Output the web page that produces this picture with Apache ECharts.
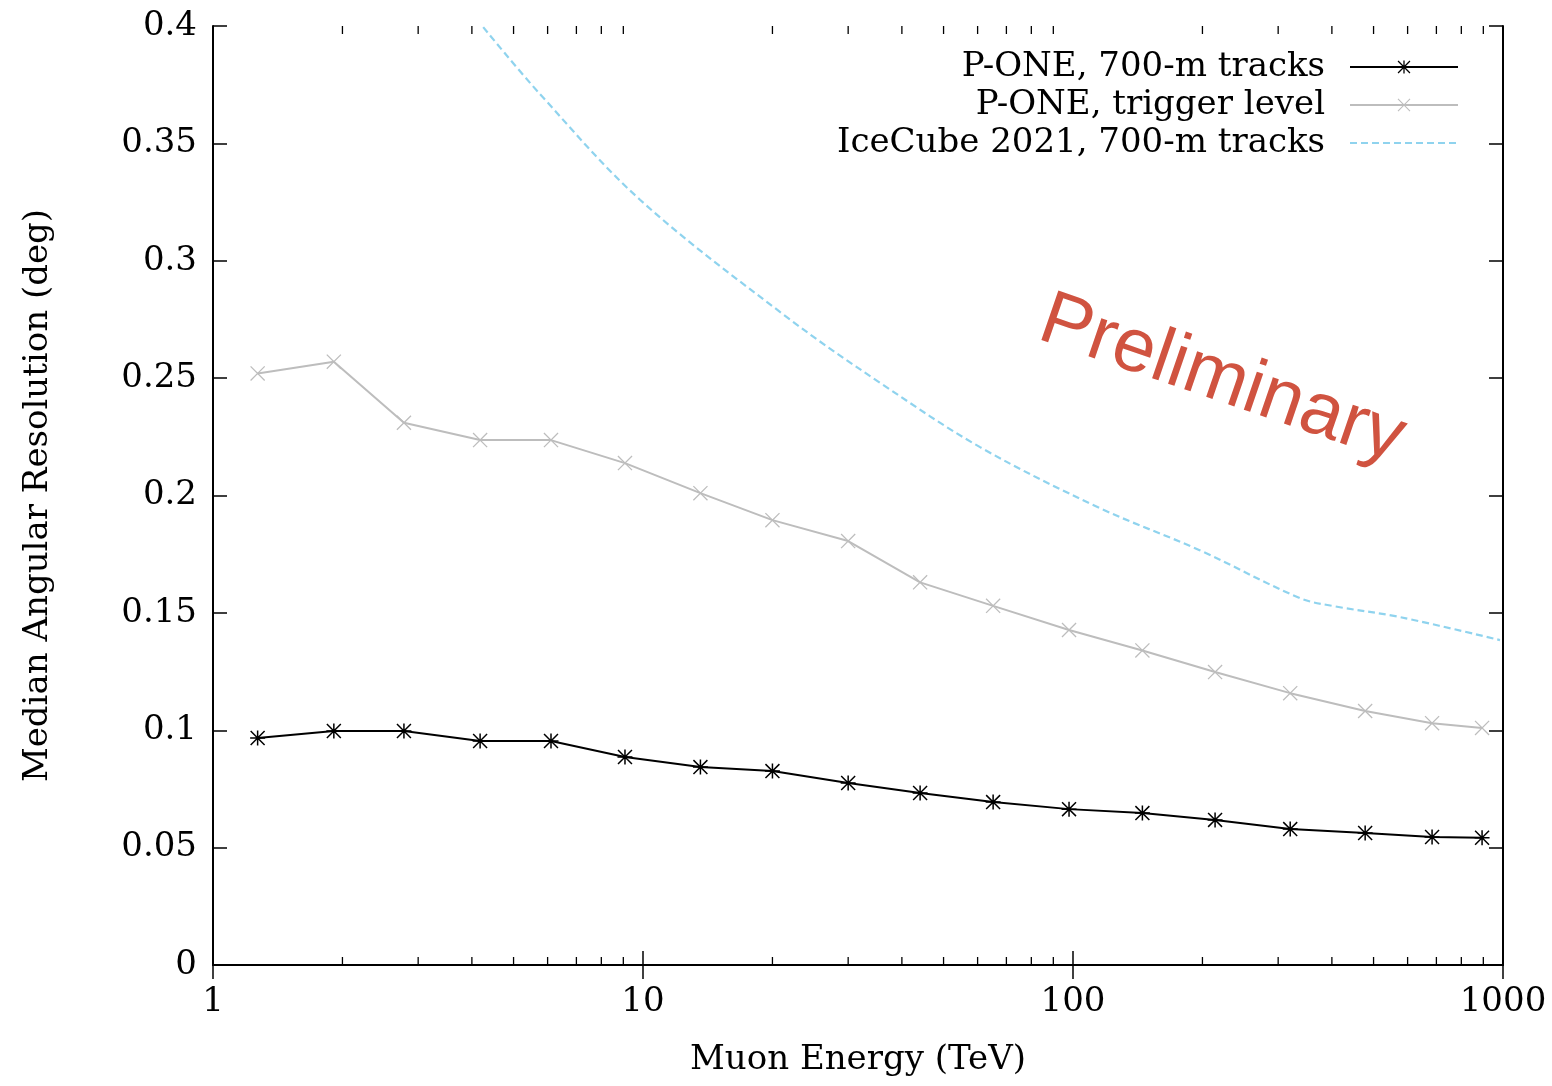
<!DOCTYPE html>
<html>
<head>
<meta charset="utf-8">
<script src="https://cdn.jsdelivr.net/npm/echarts@6/dist/echarts.min.js"></script>
<style>html,body{margin:0;padding:0;background:#fff}#c{width:1552px;height:1086px}</style>
</head>
<body>
<div id="c"></div>
<script>
// ---- data ----
const energyTeV = [1.27, 1.91, 2.78, 4.18, 6.11, 9.08, 13.6, 20.0, 30.0, 44.1, 65.2, 97.9, 145, 214, 320, 478, 684, 894];
const poneTracks = [0.0967, 0.0997, 0.0997, 0.0954, 0.0954, 0.0886, 0.0843, 0.0826, 0.0775, 0.0733, 0.0694, 0.0664, 0.0647, 0.0618, 0.0579, 0.0562, 0.0545, 0.0542];
const poneTrigger = [0.252, 0.257, 0.231, 0.2236, 0.2236, 0.2138, 0.201, 0.1895, 0.1806, 0.163, 0.153, 0.1427, 0.134, 0.1248, 0.1158, 0.1082, 0.103, 0.101];
const icecubeE = [4.25, 5.76, 9.84, 21.6, 35.6, 60.8, 115.6, 197, 337, 403, 576, 984];
const icecubeRes = [0.3995, 0.371, 0.326, 0.276, 0.248, 0.2206, 0.1946, 0.1767, 0.1563, 0.1529, 0.1482, 0.1384];
const seriesNames = ['P-ONE, 700-m tracks', 'P-ONE, trigger level', 'IceCube 2021, 700-m tracks'];
const xTickLabels = ['1', '10', '100', '1000'];
const xMinorTicks = [2,3,4,5,6,7,8,9,20,30,40,50,60,70,80,90,200,300,400,500,600,700,800,900];
const xAxisTitle = 'Muon Energy (TeV)';
const yAxisTitle = 'Median Angular Resolution (deg)';
const watermark = 'Preliminary';

const pair = (xs, ys) => xs.map((x, i) => [x, ys[i]]);

const ASTERISK = 'path://M0 9H20V11H0Z M9 0H11V20H9Z M0 1.4L1.4 0L20 18.6L18.6 20Z M18.6 0L20 1.4L1.4 20L0 18.6Z';
const CROSS = 'path://M0 1.2L1.2 0L20 18.8L18.8 20Z M18.8 0L20 1.2L1.2 20L0 18.8Z';

const serif = 'DejaVu Serif';
const chart = echarts.init(document.getElementById('c'), null, {renderer: 'canvas'});

const commonX = {
  type: 'log', logBase: 10, min: 1, max: 1000,
  axisLine: {show: true, lineStyle: {color: '#000', width: 2}},
  axisTick: {show: true, inside: true, length: 14, lineStyle: {color: '#000', width: 1.5}},
  splitLine: {show: false}, minorTick: {show: false}
};
const commonY = {
  type: 'value', min: 0, max: 0.4, interval: 0.05,
  axisLine: {show: true, lineStyle: {color: '#000', width: 2}},
  axisTick: {show: true, inside: true, length: 14, lineStyle: {color: '#000', width: 1.5}},
  splitLine: {show: false}
};

chart.setOption({
  animation: false,
  backgroundColor: '#fff',
  grid: {left: 213, right: 49, top: 26, bottom: 121, containLabel: false},
  xAxis: [
    Object.assign({}, commonX, {
      position: 'bottom',
      name: xAxisTitle, nameLocation: 'middle', nameGap: 78,
      nameTextStyle: {fontFamily: serif, fontSize: 34, color: '#000'},
      axisLabel: {show: true, margin: 20, fontFamily: serif, fontSize: 34, color: '#000',
        formatter: v => { const i = Math.round(Math.log10(v)); return xTickLabels[i] !== undefined ? xTickLabels[i] : ''; }}
    }),
    Object.assign({}, commonX, {position: 'top', axisLabel: {show: false}})
  ],
  yAxis: [
    Object.assign({}, commonY, {
      position: 'left',
      name: yAxisTitle, nameLocation: 'middle', nameGap: 158, nameRotate: 90,
      nameTextStyle: {fontFamily: serif, fontSize: 34, color: '#000'},
      axisLabel: {show: true, margin: 16, fontFamily: serif, fontSize: 34, color: '#000',
        formatter: v => String(Number(v.toFixed(2)))}
    }),
    Object.assign({}, commonY, {position: 'right', axisLabel: {show: false}})
  ],
  legend: {
    show: true, orient: 'vertical', right: 88, top: 43, align: 'right',
    itemWidth: 108, itemHeight: 16, itemGap: 0,
    data: [
      {name: seriesNames[0]},
      {name: seriesNames[1]},
      {name: seriesNames[2], itemStyle: {opacity: 0}}
    ],
    textStyle: {fontFamily: serif, fontSize: 34, color: '#000', lineHeight: 38, padding: [0, 20, 0, 0]}
  },
  series: [
    {
      name: seriesNames[0], type: 'line', xAxisIndex: 0, yAxisIndex: 0,
      data: pair(energyTeV, poneTracks),
      symbol: ASTERISK, symbolSize: 15, showSymbol: true,
      lineStyle: {color: '#000', width: 2},
      itemStyle: {color: '#000'}, z: 5
    },
    {
      name: seriesNames[1], type: 'line', xAxisIndex: 0, yAxisIndex: 0,
      data: pair(energyTeV, poneTrigger),
      symbol: CROSS, symbolSize: 15, showSymbol: true,
      lineStyle: {color: '#bdbdbd', width: 2},
      itemStyle: {color: '#bdbdbd'}, z: 4
    },
    {
      name: seriesNames[2], type: 'line', xAxisIndex: 0, yAxisIndex: 0,
      data: pair(icecubeE, icecubeRes),
      symbol: 'none', smooth: 0.35,
      lineStyle: {color: '#8fd3ee', width: 2.2, type: [7, 4]},
      itemStyle: {color: '#8fd3ee'}, z: 3
    },
    {
      type: 'custom', xAxisIndex: 0, yAxisIndex: 0, silent: true, clip: false,
      data: xMinorTicks.map(v => [v, 0]),
      encode: {x: 0, y: 1},
      renderItem: (params, api) => {
        const b = api.coord([api.value(0), 0]);
        const t = api.coord([api.value(0), 0.4]);
        const st = {stroke: '#000', lineWidth: 1.3};
        return {type: 'group', children: [
          {type: 'line', shape: {x1: b[0], y1: b[1], x2: b[0], y2: b[1] - 8}, style: st},
          {type: 'line', shape: {x1: t[0], y1: t[1], x2: t[0], y2: t[1] + 8}, style: st}
        ]};
      }, z: 6
    }
  ],
  graphic: [{
    type: 'text', x: 1222, y: 380, rotation: -19 * Math.PI / 180,
    style: {text: watermark, fill: '#d05340', font: '76px "Liberation Sans"', align: 'center', verticalAlign: 'middle'},
    z: 10
  }]
});
</script>
</body>
</html>
